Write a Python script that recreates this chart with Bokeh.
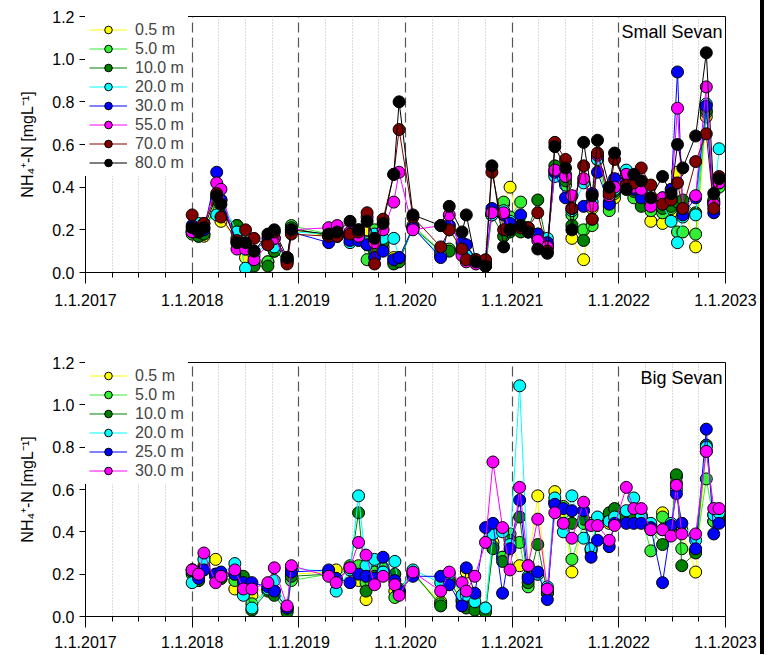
from bokeh.plotting import figure
from bokeh.models import FixedTicker, Legend, LegendItem, Label, Range1d, Div, PrintfTickFormatter
from bokeh.layouts import column, row
from bokeh.embed import file_html
from bokeh.resources import INLINE

# ---------------- axis ticks ----------------
years = [2017, 2018, 2019, 2020, 2021, 2022, 2023]
year_labels = ["1.1.2017", "1.1.2018", "1.1.2019", "1.1.2020", "1.1.2021", "1.1.2022", "1.1.2023"]
quarters = [y + q / 4 for y in years[:-1] for q in (1, 2, 3)]
y_ticks = [0.0, 0.2, 0.4, 0.6, 0.8, 1.0, 1.2]

# ---------------- Small Sevan ----------------
small_dates = [2018.0, 2018.06, 2018.11, 2018.23, 2018.27, 2018.42, 2018.50, 2018.58, 2018.71, 2018.77,
               2018.89, 2018.93, 2019.28, 2019.36, 2019.48, 2019.56, 2019.64, 2019.71, 2019.79, 2019.89,
               2019.94, 2020.07, 2020.33, 2020.41, 2020.53, 2020.57, 2020.66, 2020.75, 2020.81, 2020.92,
               2020.98, 2021.08, 2021.15, 2021.24, 2021.33, 2021.40, 2021.50, 2021.56, 2021.67, 2021.75,
               2021.80, 2021.91, 2021.96, 2022.07, 2022.14, 2022.21, 2022.30, 2022.41, 2022.49, 2022.55,
               2022.60, 2022.72, 2022.82, 2022.89, 2022.94]
small_0_5 = [.19, .18, .17, .33, .24, .16, .07, .05, .05, .12, .06, .20, .17, .17, .18, .18, .20, .16, .16, .07,
             .06, .21, .08, .20, .10, .08, .05, .04, .27, .32, .40, .20, .19, .17, .13, .46, .45, .16, .06, .30,
             .55, .31, .35, .40, .38, .35, .24, .23, .28, .47, .32, .12, .73, .33, .41]
small_5 = [.18, .17, .18, .35, .28, .22, .11, .04, .05, .10, .06, .22, .18, .17, .17, .20, .06, .20, .12, .05,
           .06, .22, .10, .11, .10, .07, .05, .03, .28, .33, .26, .33, .20, .18, .12, .48, .41, .27, .20, .22,
           .53, .29, .37, .41, .35, .36, .29, .28, .30, .19, .19, .18, .75, .33, .40]
small_10 = [.19, .17, .18, .34, .27, .22, .13, .03, .03, .10, .05, .21, .17, .18, .17, .18, .13, .10, .14, .04,
            .05, .21, .10, .10, .11, .08, .05, .03, .27, .17, .19, .19, .20, .34, .12, .50, .43, .22, .15, .25,
            .55, .33, .38, .39, .38, .31, .32, .30, .31, .33, .34, .28, .76, .34, .42]
small_20 = [.20, .23, .23, .27, .34, .19, .02, .08, .14, .12, .06, .19, .18, .18, .14, .16, .14, .18, .16, .16,
            .07, .21, .08, .22, .09, .08, .05, .04, .27, .29, .24, .21, .19, .17, .16, .45, .46, .29, .42, .33,
            .53, .38, .39, .48, .42, .40, .33, .32, .24, .14, .26, .27, .79, .32, .58]
small_30 = [.22, .19, .20, .47, .34, .14, .13, .10, .16, .16, .07, .19, .14, .18, .15, .15, .13, .07, .10, .06,
            .07, .21, .07, .22, .14, .13, .06, .05, .30, .27, .23, .27, .21, .18, .14, .47, .35, .30, .31, .37,
            .47, .32, .44, .43, .39, .35, .35, .35, .39, .94, .27, .35, .78, .28, .43]
small_55 = [.19, .20, .21, .42, .39, .11, .11, .06, .13, .16, .05, .20, .21, .22, .19, .17, .26, .14, .20, .33,
            .47, .20, .22, .27, .08, .05, .04, .05, .28, .28, .20, .22, .20, .15, .12, .48, .45, .36, .44, .31,
            .55, .36, .40, .46, .40, .39, .31, .35, .35, .77, .30, .36, .87, .32, .42]
small_70 = [.27, .20, .23, .37, .26, .15, .20, .16, .13, .19, .04, .18, .17, .17, .18, .19, .28, .04, .25, .46,
            .67, .26, .12, .20, .11, .06, .06, .06, .47, .20, .20, .21, .21, .28, .10, .61, .53, .30, .50, .25,
            .56, .37, .53, .41, .42, .49, .41, .32, .34, .42, .30, .52, .65, .30, .45]
small_80 = [.21, .19, .21, .36, .32, .14, .14, .10, .18, .20, .07, .20, .18, .19, .24, .20, .24, .16, .23, .46,
            .80, .27, .22, .31, .19, .27, .05, .03, .50, .12, .20, .22, .19, .11, .09, .59, .49, .20, .61, .36,
            .62, .40, .56, .39, .46, .43, .35, .45, .37, .60, .49, .64, 1.03, .37, .44]
small_labels = ["0.5 m", "5.0 m", "10.0 m", "20.0 m", "30.0 m", "55.0 m", "70.0 m", "80.0 m"]
small_colors = ["#FFFF00", "#33EE33", "#008000", "#00FFFF", "#0000FF", "#FF00FF", "#800000", "#000000"]

# ---------------- Big Sevan ----------------
big_dates = [2018.0, 2018.06, 2018.11, 2018.22, 2018.27, 2018.40, 2018.48, 2018.56, 2018.71, 2018.77,
             2018.89, 2018.93, 2019.28, 2019.35, 2019.48, 2019.56, 2019.63, 2019.71, 2019.79, 2019.90,
             2019.94, 2020.07, 2020.33, 2020.41, 2020.53, 2020.57, 2020.65, 2020.75, 2020.82, 2020.91,
             2020.98, 2021.07, 2021.15, 2021.24, 2021.33, 2021.40, 2021.48, 2021.56, 2021.67, 2021.74,
             2021.80, 2021.91, 2021.96, 2022.07, 2022.14, 2022.21, 2022.30, 2022.41, 2022.49, 2022.54,
             2022.59, 2022.72, 2022.82, 2022.89, 2022.94]
big_0_5 = [.22, .19, .24, .27, .20, .13, .12, .10, .15, .12, .04, .20, .21, .22, .23, .17, .08, .19, .20, .12,
           .12, .20, .07, .18, .10, .21, .10, .04, .35, .28, .37, .24, .24, .57, .12, .59, .49, .21, .44, .44,
           .44, .44, .45, .46, .48, .47, .43, .49, .42, .63, .41, .21, .78, .45, .50]
big_5 = [.20, .17, .22, .19, .18, .17, .17, .06, .13, .12, .03, .17, .20, .18, .24, .24, .16, .21, .23, .09,
         .12, .20, .06, .17, .07, .07, .06, .03, .33, .28, .39, .35, .14, .20, .11, .54, .52, .27, .44, .31,
         .44, .48, .49, .47, .47, .48, .31, .47, .41, .66, .32, .31, .65, .45, .46]
big_10 = [.21, .17, .23, .20, .18, .20, .19, .03, .12, .10, .02, .19, .20, .17, .23, .49, .12, .19, .21, .20,
          .13, .21, .05, .16, .08, .04, .03, .02, .32, .26, .36, .47, .16, .34, .11, .54, .44, .44, .46, .32,
          .43, .49, .51, .47, .46, .46, .41, .34, .40, .67, .24, .30, .81, .48, .45]
big_20 = [.16, .19, .27, .19, .20, .25, .10, .04, .13, .17, .04, .23, .21, .12, .22, .57, .24, .27, .21, .26,
          .12, .22, .16, .20, .10, .10, .07, .04, .39, .40, .34, 1.09, .19, .20, .14, .56, .40, .57, .37, .32,
          .47, .45, .47, .50, .56, .47, .44, .41, .44, .60, .44, .36, .80, .48, .49]
big_25 = [.22, .18, .22, .20, .21, .20, .16, .16, .14, .12, .04, .21, .22, .18, .16, .20, .19, .18, .28, .17,
          .12, .19, .19, .15, .05, .23, .11, .42, .44, .11, .32, .55, .18, .21, .08, .53, .51, .50, .50, .28,
          .36, .33, .44, .44, .44, .44, .42, .16, .43, .58, .44, .32, .885, .39, .44]
big_30 = [.22, .20, .30, .16, .19, .22, .13, .13, .16, .23, .05, .24, .19, .16, .23, .35, .29, .15, .19, .15,
          .10, .21, .12, .21, .16, .12, .19, .35, .73, .42, .22, .61, .24, .46, .13, .49, .44, .37, .54, .43,
          .43, .36, .43, .61, .51, .51, .41, .41, .38, .62, .39, .39, .78, .51, .51]
big_labels = ["0.5 m", "5.0 m", "10.0 m", "20.0 m", "25.0 m", "30.0 m"]
big_colors = ["#FFFF00", "#33EE33", "#008000", "#00FFFF", "#0000FF", "#FF00FF"]

FONT = "Liberation Sans"


def make_panel(dates, series, labels, colors, site, height, mb_top, mb_bottom, standoff):
    p = figure(width=760, height=height, x_range=Range1d(2017, 2023), y_range=Range1d(0, 1.2),
               output_backend="svg", toolbar_location=None,
               min_border_left=85, min_border_right=35,
               min_border_top=mb_top, min_border_bottom=mb_bottom)
    p.background_fill_color = "white"
    p.border_fill_color = "white"
    p.outline_line_color = "black"
    p.outline_line_width = 1
    p.outline_line_alpha = 1

    xt = FixedTicker(ticks=years, minor_ticks=quarters)
    p.xaxis.ticker = xt
    p.xaxis.major_label_overrides = {y: l for y, l in zip(years, year_labels)}
    p.xaxis.major_tick_out = 11
    p.xaxis.major_tick_in = 0
    p.xaxis.minor_tick_out = 5
    p.xaxis.minor_tick_in = 0
    p.xaxis.major_label_standoff = standoff

    p.yaxis.ticker = FixedTicker(ticks=y_ticks, minor_ticks=[])
    p.yaxis.formatter = PrintfTickFormatter(format="%.1f")
    p.yaxis.major_tick_out = 6
    p.yaxis.major_tick_in = 0
    p.yaxis.minor_tick_out = 0
    p.yaxis.minor_tick_in = 0
    p.yaxis.major_label_standoff = 5
    p.yaxis.axis_label = "NH\u2084\u207a-N [mgL\u207b\u00b9]"
    p.yaxis.axis_label_text_font = FONT
    p.yaxis.axis_label_text_font_size = "16px"
    p.yaxis.axis_label_text_font_style = "normal"
    p.yaxis.axis_label_text_color = "black"
    p.yaxis.axis_label_standoff = 13

    for ax in (p.xaxis[0], p.yaxis[0]):
        ax.axis_line_color = "black"
        ax.major_tick_line_color = "black"
        ax.minor_tick_line_color = "black"
        ax.major_label_text_font = FONT
        ax.major_label_text_font_size = "16px"
        ax.major_label_text_color = "black"

    p.xgrid.ticker = xt
    p.xgrid.grid_line_color = "#555555"
    p.xgrid.grid_line_dash = "10 5"
    p.xgrid.grid_line_width = 1.2
    p.xgrid.minor_grid_line_color = "#b8b8b8"
    p.xgrid.minor_grid_line_dash = "1 2"
    p.ygrid.visible = False

    items = []
    for vals, lab, col in zip(series, labels, colors):
        lr = p.line(dates, vals, line_color=col, line_width=1)
        sr = p.scatter(dates, vals, size=12, marker="circle", fill_color=col,
                       line_color="black", line_width=1)
        items.append(LegendItem(label=lab, renderers=[lr, sr]))

    legend = Legend(items=items, location="top_left", glyph_width=38, glyph_height=19,
                    label_height=19, spacing=0, padding=4, margin=0, label_standoff=8,
                    label_text_font=FONT, label_text_font_size="16px",
                    border_line_alpha=0, background_fill_color="white", background_fill_alpha=1)
    p.add_layout(legend)

    p.add_layout(Label(x=2023, y=1.2, x_offset=-3, y_offset=-5, text=site, text_align="right",
                       text_baseline="top", text_font=FONT, text_font_size="18px", text_color="black"))
    return p


p1 = make_panel(small_dates,
                [small_0_5, small_5, small_10, small_20, small_30, small_55, small_70, small_80],
                small_labels, small_colors, "Small Sevan", 325, 16, 53, 10)
p2 = make_panel(big_dates, [big_0_5, big_5, big_10, big_20, big_25, big_30],
                big_labels, big_colors, "Big Sevan", 329, 37, 38, 8)

bar = Div(text="", width=4, height=654, margin=0, styles={"background-color": "black"})
layout = row(column(p1, p2, spacing=0), bar, spacing=0)

open("out.html", "w").write(file_html(layout, INLINE))
